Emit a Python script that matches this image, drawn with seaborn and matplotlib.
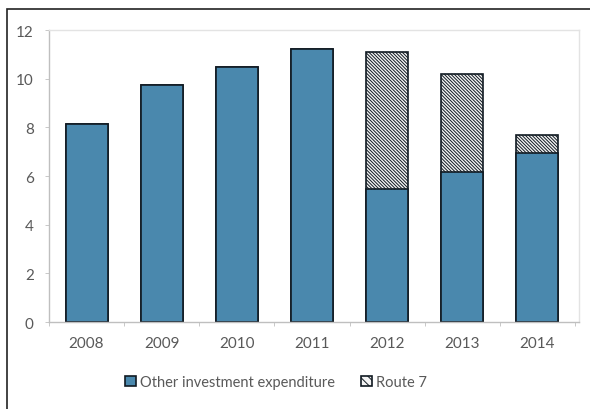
import matplotlib
matplotlib.use("Agg")
import matplotlib.pyplot as plt
import matplotlib.patches as mpatches
import numpy as np
import pandas as pd
import seaborn as sns

years = ["2008", "2009", "2010", "2011", "2012", "2013", "2014"]
other_invest = [8.15, 9.74, 10.48, 11.22, 5.47, 6.17, 6.95]
route7 = [0, 0, 0, 0, 5.63, 4.02, 0.74]
y_ticks = [0, 2, 4, 6, 8, 10, 12]

sns.set_theme(style="white")
plt.rcParams["font.family"] = ["Lato", "DejaVu Sans"]
plt.rcParams["hatch.linewidth"] = 0.7

df = pd.DataFrame({"year": years, "other": other_invest, "route7": route7})
df["total"] = df["other"] + df["route7"]

blue = "#4a88ad"
edge = "#111a22"
text_gray = "#595959"
dense_hatch = "\\" * 10

fig = plt.figure(figsize=(5.9, 4.1), dpi=100)
ax = fig.add_axes([0.083, 0.212, 0.898, 0.712])

# hatched totals first, blue "other" bars drawn on top
sns.barplot(data=df, x="year", y="total", ax=ax, color="#f4f4f4", width=0.56,
            edgecolor=edge, linewidth=1.2, hatch=dense_hatch, saturation=1)
sns.barplot(data=df, x="year", y="other", ax=ax, color=blue, width=0.56,
            edgecolor=edge, linewidth=1.2, saturation=1)

ax.set_ylim(0, 12)
ax.set_xlim(-0.5, 6.55)
ax.set_yticks(y_ticks)
ax.set_xlabel("")
ax.set_ylabel("")
ax.tick_params(axis="y", labelsize=11, colors=text_gray, length=3, width=0.6,
               left=True, pad=8)
ax.tick_params(axis="y", color="#bfbfbf")
ax.tick_params(axis="x", labelsize=11, colors=text_gray, length=0, pad=10)
ax.set_xticks(np.arange(-0.5, 6.6, 1), minor=True)
ax.tick_params(axis="x", which="minor", bottom=True, length=3, width=0.6, color="#bfbfbf")

for side in ["top", "right"]:
    ax.spines[side].set_color("#e3e3e3")
    ax.spines[side].set_linewidth(1.0)
for side in ["left", "bottom"]:
    ax.spines[side].set_color("#bfbfbf")
    ax.spines[side].set_linewidth(1.0)

handles = [
    mpatches.Patch(facecolor=blue, edgecolor=edge, linewidth=1.2),
    mpatches.Patch(facecolor="#f4f4f4", edgecolor=edge, linewidth=1.2, hatch="\\\\\\\\"),
]
fig.legend(handles, ["Other investment expenditure", "Route 7"], loc="center",
           bbox_to_anchor=(0.468, 0.066), ncol=2, frameon=False, fontsize=10.5,
           labelcolor=text_gray, handlelength=0.75, handleheight=0.75,
           handletextpad=0.25, columnspacing=1.8)

# outer frame around the chart, clipped at the right and bottom
frame = mpatches.Rectangle((7 / 590, -0.05), 1.1, 1 - 10 / 410 + 0.05,
                           transform=fig.transFigure, fill=False,
                           edgecolor="#222222", linewidth=1.2)
fig.patches.append(frame)

fig.savefig("out.png", dpi=100)
